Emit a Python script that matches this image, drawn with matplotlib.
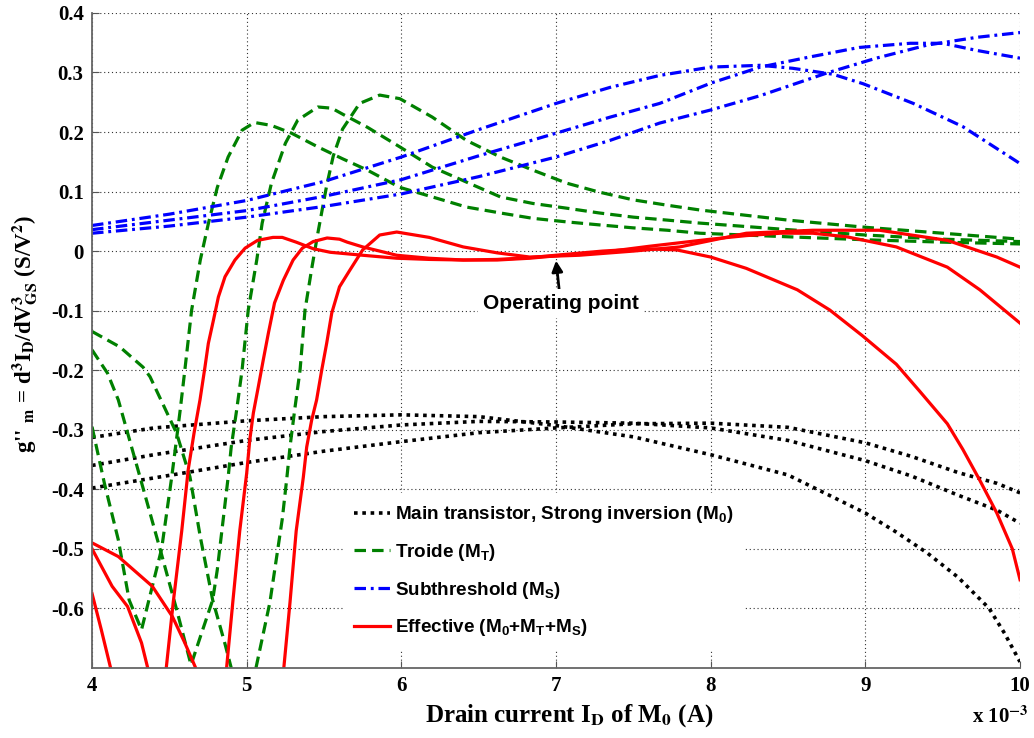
import numpy as np
import matplotlib
matplotlib.use("Agg")
import matplotlib.pyplot as plt

plt.rcParams["mathtext.fontset"] = "custom"
plt.rcParams["mathtext.rm"] = "Liberation Sans:bold"
plt.rcParams["mathtext.it"] = "Liberation Sans:bold"
plt.rcParams["mathtext.bf"] = "Liberation Sans:bold"

nan = np.nan

# drain current of M0, in units of 1e-3 A
# main transistor, strong inversion (three bias cases)
k1_x = [4.0, 4.4, 5.0, 5.5, 6.0, 6.5, 7.0, 7.5, 8.0, 8.5, 9.0, 9.2, 9.4, 9.6, 9.8, 9.9, 10.0]
k1_y = [-0.313, -0.297, -0.285, -0.278, -0.275, -0.278, -0.293, -0.312, -0.342, -0.376,
        -0.44, -0.472, -0.507, -0.548, -0.60, -0.642, -0.69]
k2_x = [4.0, 4.4, 5.0, 5.5, 6.0, 6.5, 7.0, 7.5, 8.0, 8.5, 9.0, 9.3, 9.6, 9.85, 10.0]
k2_y = [-0.36, -0.342, -0.318, -0.303, -0.292, -0.286, -0.287, -0.289, -0.297, -0.318,
        -0.352, -0.378, -0.41, -0.435, -0.457]
k3_x = [4.0, 4.4, 5.0, 5.5, 6.0, 6.5, 7.0, 7.5, 8.0, 8.5, 9.0, 9.3, 9.6, 9.85, 10.0]
k3_y = [-0.398, -0.381, -0.355, -0.336, -0.32, -0.305, -0.297, -0.29, -0.289, -0.296,
        -0.322, -0.345, -0.372, -0.39, -0.406]

# triode
t1_x = [4.0, 4.08, 4.17, 4.24, 4.32, 4.45, 4.515, 4.54, 4.57, 4.60, 4.644, 4.70, 4.752,
        4.81, 4.88, 4.97, 5.05, 5.16, 5.29, 5.46, 5.62, 5.78, 5.99, 6.20, 6.42, 6.64, 6.85,
        7.07, 7.28, 7.50, 7.72, 7.93, 8.5, 9.0, 9.5, 10.0]
t1_y = [-0.295, -0.39, -0.485, -0.586, -0.636, -0.50, -0.38, -0.329, -0.267, -0.20, -0.099,
        -0.015, 0.046, 0.107, 0.158, 0.203, 0.216, 0.211, 0.198, 0.175, 0.155, 0.136, 0.107,
        0.091, 0.074, 0.064, 0.055, 0.049, 0.044, 0.039, 0.035, 0.030, 0.024, 0.019, 0.015, 0.012]
t2_x = [4.0, 4.1, 4.17, 4.3, 4.45, 4.55, 4.64, 4.70, 4.78, 4.81, 4.88, 4.90, 4.935, 4.97,
        5.01, 5.065, 5.10, 5.16, 5.25, 5.33, 5.46, 5.55, 5.62, 5.78, 5.99, 6.20, 6.42, 6.64,
        6.85, 7.07, 7.28, 7.50, 7.72, 7.93, 8.5, 9.0, 9.5, 10.0]
t2_y = [-0.166, -0.205, -0.25, -0.37, -0.51, -0.605, -0.695, -0.648, -0.586, -0.535, -0.38,
        -0.329, -0.267, -0.20, -0.099, -0.015, 0.047, 0.114, 0.181, 0.22, 0.242, 0.24, 0.23,
        0.208, 0.175, 0.141, 0.116, 0.091, 0.080, 0.072, 0.064, 0.057, 0.052, 0.047, 0.036,
        0.027, 0.020, 0.016]
t3_x = [4.0, 4.18, 4.33, 4.375, 4.547, 4.633, 4.70, 4.78, 4.86, 4.90, nan, 5.06, 5.15,
        5.23, 5.26, 5.28, 5.31, 5.345, 5.377, 5.42, 5.46, 5.517, 5.56, 5.62, 5.73, 5.86,
        5.99, 6.20, 6.42, 6.64, 6.85, 7.07, 7.28, 7.50, 7.72, 7.93, 8.5, 9.0, 9.5, 10.0]
t3_y = [-0.135, -0.161, -0.195, -0.211, -0.306, -0.379, -0.48, -0.586, -0.66, -0.70, nan,
        -0.70, -0.59, -0.45, -0.38, -0.329, -0.267, -0.20, -0.099, -0.03, 0.03, 0.11, 0.16,
        0.205, 0.248, 0.262, 0.256, 0.225, 0.186, 0.158, 0.136, 0.114, 0.099, 0.086, 0.077,
        0.069, 0.052, 0.04, 0.03, 0.02]

# subthreshold
s1_x = [4.0, 4.5, 5.0, 5.5, 6.0, 6.5, 7.0, 7.35, 7.67, 8.0, 8.32, 8.53, 8.79, 8.986, 9.31, 9.63, 10.0]
s1_y = [0.043, 0.062, 0.085, 0.117, 0.158, 0.204, 0.248, 0.275, 0.295, 0.309, 0.312, 0.307,
        0.297, 0.281, 0.248, 0.209, 0.147]
s2_x = [4.0, 4.5, 5.0, 5.5, 6.0, 6.5, 7.0, 7.35, 7.67, 8.0, 8.32, 8.64, 8.96, 9.29, 9.5, 9.72, 10.0]
s2_y = [0.036, 0.052, 0.068, 0.092, 0.12, 0.16, 0.198, 0.225, 0.248, 0.282, 0.309, 0.326,
        0.342, 0.349, 0.349, 0.337, 0.324]
s3_x = [4.0, 4.5, 5.0, 5.5, 6.0, 6.5, 7.0, 7.35, 7.67, 8.0, 8.32, 8.75, 9.07, 9.4, 9.72, 10.0]
s3_y = [0.030, 0.042, 0.057, 0.075, 0.096, 0.125, 0.158, 0.186, 0.215, 0.237, 0.261, 0.299,
        0.324, 0.346, 0.359, 0.367]

# effective = M0 + MT + MS
e1_x = [4.0, 4.06, 4.12, nan, 4.48, 4.525, 4.58, 4.622, 4.66, 4.698, 4.73, 4.752, 4.785,
        4.817, 4.86, 4.924, 4.99, 5.07, 5.17, 5.23, 5.32, 5.43, 5.54, 5.75, 5.97, 6.18, 6.40,
        6.62, 6.83, 7.04, 7.3, 7.56, 7.78, 8.0, 8.23, 8.56, 8.77, 8.98, 9.20, 9.35, 9.53,
        9.63, 9.74, 9.85, 9.95, 10.0]
e1_y = [-0.575, -0.636, -0.70, nan, -0.70, -0.59, -0.47, -0.367, -0.305, -0.25, -0.195,
        -0.155, -0.116, -0.077, -0.043, -0.015, 0.005, 0.018, 0.023, 0.023, 0.015, 0.004,
        -0.002, -0.007, -0.012, -0.014, -0.015, -0.014, -0.011, -0.006, 0.0, 0.004, 0.002,
        -0.01, -0.029, -0.065, -0.099, -0.142, -0.19, -0.235, -0.29, -0.333, -0.385, -0.44,
        -0.50, -0.552]
e2_x = [4.0, 4.13, 4.23, 4.32, 4.36, nan, 4.87, 4.91, 4.955, 5.0, 5.02, 5.043, 5.075,
        5.107, 5.14, 5.18, 5.237, 5.30, 5.36, 5.43, 5.52, 5.60, 5.65, 5.75, 5.97, 6.18, 6.40,
        6.62, 6.83, 7.04, 7.3, 7.6, 8.0, 8.23, 8.45, 8.66, 8.88, 9.2, 9.53, 9.74, 10.0]
e2_y = [-0.50, -0.563, -0.597, -0.658, -0.70, nan, -0.70, -0.59, -0.47, -0.373, -0.317,
        -0.272, -0.228, -0.183, -0.138, -0.087, -0.049, -0.015, 0.005, 0.016, 0.022, 0.02,
        0.015, 0.007, -0.007, -0.012, -0.015, -0.015, -0.012, -0.007, -0.002, 0.008, 0.02,
        0.026, 0.03, 0.03, 0.024, 0.007, -0.027, -0.065, -0.121]
e3_x = [4.0, 4.17, 4.39, 4.52, 4.60, 4.67, nan, 5.24, 5.28, 5.32, 5.366, 5.388, 5.42,
        5.452, 5.485, 5.517, 5.55, 5.60, 5.667, 5.75, 5.86, 5.97, 6.18, 6.40, 6.62, 6.83,
        7.15, 7.5, 7.8, 8.23, 8.66, 9.09, 9.53, 9.85, 10.0]
e3_y = [-0.49, -0.513, -0.563, -0.614, -0.658, -0.70, nan, -0.70, -0.59, -0.47, -0.38,
        -0.329, -0.284, -0.25, -0.2, -0.155, -0.104, -0.060, -0.032, 0.002, 0.027, 0.032,
        0.023, 0.007, -0.003, -0.010, -0.007, 0.0, 0.007, 0.03, 0.035, 0.035, 0.018, -0.01,
        -0.027]

labels = ["Main transistor, Strong inversion (M$_0$)",
          "Troide (M$_T$)",
          "Subthreshold (M$_S$)",
          "Effective (M$_0$+M$_T$+M$_S$)"]
xticks = [4, 5, 6, 7, 8, 9, 10]
yticks = [-0.6, -0.5, -0.4, -0.3, -0.2, -0.1, 0, 0.1, 0.2, 0.3, 0.4]

green = "#008000"
lw = 2.3
black_style = dict(color="k", lw=lw + 0.3, linestyle=(0, (1.0, 1.3)))
green_style = dict(color=green, lw=lw, linestyle=(0, (3.6, 1.9)))
blue_style = dict(color="#0000ff", lw=lw, linestyle=(0, (3.6, 1.5, 0.9, 1.5)))
red_style = dict(color="#ff0000", lw=lw, linestyle="-")

fig = plt.figure(figsize=(10.34, 7.38), dpi=100)
ax = fig.add_axes([0.089, 0.095, 0.8975, 0.8875])

lines = []
for xs, ys in [(k1_x, k1_y), (k2_x, k2_y), (k3_x, k3_y)]:
    h, = ax.plot(xs, ys, **black_style)
lines.append(h)
for xs, ys in [(t1_x, t1_y), (t2_x, t2_y), (t3_x, t3_y)]:
    h, = ax.plot(xs, ys, **green_style)
lines.append(h)
for xs, ys in [(s1_x, s1_y), (s2_x, s2_y), (s3_x, s3_y)]:
    h, = ax.plot(xs, ys, **blue_style)
lines.append(h)
for xs, ys in [(e1_x, e1_y), (e2_x, e2_y), (e3_x, e3_y)]:
    h, = ax.plot(xs, ys, **red_style)
lines.append(h)

ax.set_xlim(4, 10)
ax.set_ylim(-0.7, 0.4)
ax.set_xticks(xticks)
ax.set_yticks(yticks)
ax.set_xticklabels([str(t) for t in xticks])
ax.set_yticklabels(["0" if t == 0 else f"{t:.1f}" for t in yticks])
for lab in ax.get_xticklabels() + ax.get_yticklabels():
    lab.set_fontfamily("Liberation Serif")
    lab.set_fontweight("bold")
    lab.set_fontsize(15)
ax.tick_params(direction="in", length=5, color="#555555", top=False, right=False, pad=6)

ax.set_axisbelow(True)
ax.grid(True, linestyle=(0, (1, 2.5)), color="#333333", linewidth=0.8)
for side in ["top", "right"]:
    ax.spines[side].set_visible(False)
for side in ["left", "bottom"]:
    ax.spines[side].set_color("#666666")
    ax.spines[side].set_linewidth(1.3)

leg = ax.legend(lines, labels, loc="upper left", bbox_to_anchor=(0.27, 0.267),
                borderaxespad=0, frameon=True, fancybox=False, framealpha=1,
                facecolor="white", edgecolor="none", handlelength=1.9,
                handletextpad=0.3, labelspacing=0.88, borderpad=0.6,
                prop={"family": "Liberation Sans", "weight": "bold", "size": 13.6})

ax.annotate("Operating point", xy=(7.0, -0.016), xytext=(7.03, -0.088),
            ha="center", va="center", fontsize=15, fontweight="bold",
            fontfamily="Liberation Sans",
            bbox=dict(boxstyle="square,pad=0.25", fc="white", ec="none"),
            arrowprops=dict(arrowstyle="-|>", color="k", lw=2, mutation_scale=16,
                            shrinkA=0, shrinkB=0))

ax.set_xlabel(r"Drain current I$_\mathbf{D}$ of M$_\mathbf{0}$ (A)",
              fontfamily="Liberation Serif", fontweight="bold", fontsize=18,
              math_fontfamily="stix", labelpad=8)
ax.xaxis.set_label_coords(0.514, -0.052)
ax.set_ylabel(r"g'' $_\mathbf{m}$ = d$^\mathbf{3}$I$_\mathbf{D}$/dV$^\mathbf{3}_\mathbf{GS}$ (S/V$^\mathbf{2}$)",
              fontfamily="Liberation Serif", fontweight="bold", fontsize=16.5,
              math_fontfamily="stix")
ax.yaxis.set_label_coords(-0.056, 0.51)

fig.text(0.995, 1 - 717 / 738, r"x 10$^\mathbf{-3}$", ha="right", va="center",
         fontfamily="Liberation Serif", fontweight="bold", fontsize=15,
         math_fontfamily="stix")

fig.savefig("out.png", dpi=100, facecolor="white")
